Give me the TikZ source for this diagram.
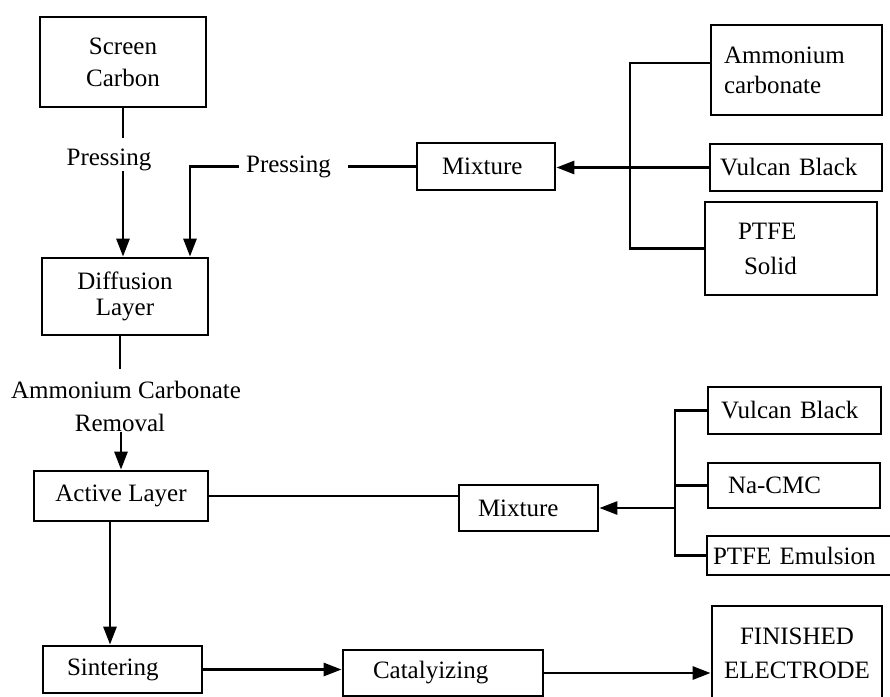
\documentclass[tikz,border=0pt]{standalone}
\usepackage{fontspec}
\setmainfont{Liberation Serif}
\usetikzlibrary{arrows.meta,calc}
\begin{document}
\begin{tikzpicture}[x=1pt,y=-1pt,
  every node/.style={font=\fontsize{25}{30}\selectfont},
  box/.style={draw, line width=2.8pt, inner sep=0pt, align=center},
  lbox/.style={draw, line width=2.8pt, inner ysep=0pt, align=left},
  conn/.style={line width=2.8pt},
  arr/.style={conn, -{Triangle[length=18pt,width=13pt]}},
  lbl/.style={inner sep=0pt}]
\useasboundingbox (0,0) rectangle (890,696);
\clip (0,0) rectangle (890,696);
% boxes
\node[box, minimum width=166, minimum height=90] (sc) at (123,62) {Screen\\[2pt]Carbon};
\node[box, minimum width=166, minimum height=77] (dl) at (125,296.5) {Diffusion\\[-4pt]Layer};
\node[lbox, text width=88, inner xsep=25, minimum height=47] (mx1) at (486,166.5) {Mixture};
\node[lbox, text width=145, inner xsep=13, minimum height=90] (ac) at (796.5,70) {Ammonium\\carbonate};
\node[lbox, text width=152, inner xsep=10, minimum height=47] (vb1) at (796,167.5) {Vulcan Black};
\node[lbox, text width=106, inner xsep=33, minimum height=93] (pt1) at (791,248.5) {PTFE\\[5pt]\hspace*{6pt}Solid};
\node[box, minimum width=174, minimum height=50] (al) at (121,496) {Active Layer};
\node[lbox, text width=101, inner xsep=19, minimum height=46] (mx2) at (528.5,508) {Mixture};
\node[lbox, text width=147, inner xsep=13, minimum height=47] (vb2) at (794.5,410.5) {Vulcan Black};
\node[lbox, text width=132, inner xsep=20, minimum height=45] (na) at (794,485.5) {Na-CMC};
\node[lbox, text width=178, inner xsep=6, minimum height=39] (pe) at (802,555.5) {PTFE Emulsion};
\node[lbox, text width=111, inner xsep=24, minimum height=47] (si) at (122.5,669.5) {Sintering};
\node[lbox, text width=140, inner xsep=30, minimum height=46] (ca) at (443,673) {Catalyizing};
\node[box, minimum width=170, minimum height=94] (fe) at (797,653) {FINISHED\\[4pt]ELECTRODE};
% labels
\node[lbl] (p1) at (109,160) {Pressing};
\node[lbl] (p2) at (288.5,166.5) {Pressing};
\node[lbl] (acr) at (126,390) {Ammonium Carbonate};
\node[lbl] (rm) at (120,423) {Removal};
% connectors
\draw[conn] (sc.south) -- ++(0,30);
\draw[arr] (sc.south |- p1.south) -- (sc.south |- dl.north);
\draw[conn] (mx1.west) -- ++(-68,0);
\draw[arr] ($(p2.west)+(-7,0)$) -| ($(dl.north)+(65,0)$);
\coordinate (b1) at (630,63);
\draw[conn] (b1 -| ac.west) -- (b1) -- (b1 |- pt1.west) -- (pt1.west);
\draw[arr] (vb1.west) -- (vb1.west -| mx1.east);
\draw[conn] ($(dl.south)+(-5,0)$) -- ++(0,33);
\draw[arr] (al.north |- rm.base) -- (al.north);
\draw[conn] (al.east) -- (al.east -| mx2.west);
\coordinate (b2) at (675,0);
\draw[conn] (vb2.west) -| (b2 |- pe.west) -- (pe.west);
\draw[conn] (na.west) -- (na.west -| b2);
\draw[arr] (mx2.east -| b2) -- (mx2.east);
\coordinate (ax) at ($(al.south)+(-11,0)$);
\draw[arr] (ax) -- (ax |- si.north);
\draw[arr] (si.east) -- (si.east -| ca.west);
\draw[arr] (ca.east) -- (ca.east -| fe.west);
\end{tikzpicture}
\end{document}
